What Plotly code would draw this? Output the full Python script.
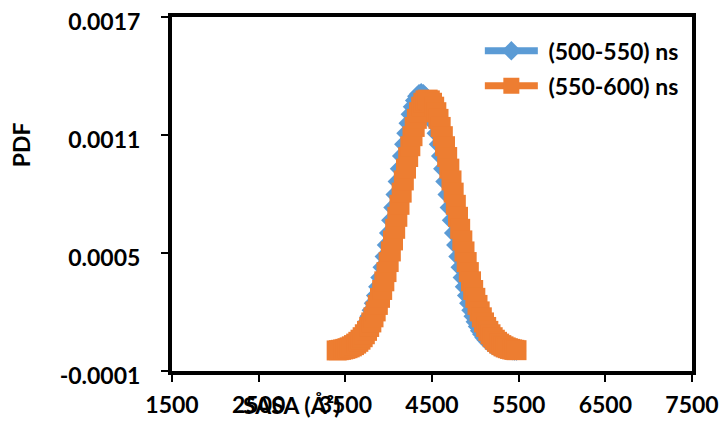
import plotly.graph_objects as go

# SASA values (Å^2) shared by both series
sasa = [3400, 3425, 3450, 3475, 3500, 3525, 3550, 3575, 3600, 3625, 3650, 3675,
        3700, 3725, 3750, 3775, 3800, 3825, 3850, 3875, 3900, 3925, 3950, 3975,
        4000, 4025, 4050, 4075, 4100, 4125, 4150, 4175, 4200, 4225, 4250, 4275,
        4300, 4325, 4350, 4375, 4400, 4425, 4450, 4475, 4500, 4525, 4550, 4575,
        4600, 4625, 4650, 4675, 4700, 4725, 4750, 4775, 4800, 4825, 4850, 4875,
        4900, 4925, 4950, 4975, 5000, 5025, 5050, 5075, 5100, 5125, 5150, 5175,
        5200, 5225, 5250, 5275, 5300, 5325, 5350, 5375, 5400, 5425, 5450, 5475]

pdf_500_550 = [0.067e-4, 0.087e-4, 0.113e-4, 0.146e-4, 0.187e-4, 0.237e-4, 0.300e-4,
               0.376e-4, 0.467e-4, 0.578e-4, 0.709e-4, 0.864e-4, 1.05e-4, 1.26e-4,
               1.50e-4, 1.78e-4, 2.09e-4, 2.45e-4, 2.84e-4, 3.28e-4, 3.75e-4, 4.27e-4,
               4.82e-4, 5.41e-4, 6.02e-4, 6.66e-4, 7.31e-4, 7.98e-4, 8.64e-4, 9.29e-4,
               9.93e-4, 10.53e-4, 11.09e-4, 11.60e-4, 12.06e-4, 12.44e-4, 12.75e-4,
               12.97e-4, 13.10e-4, 13.15e-4, 13.10e-4, 12.97e-4, 12.75e-4, 12.44e-4,
               12.06e-4, 11.60e-4, 11.09e-4, 10.53e-4, 9.93e-4, 9.29e-4, 8.64e-4,
               7.98e-4, 7.31e-4, 6.66e-4, 6.02e-4, 5.41e-4, 4.82e-4, 4.27e-4, 3.75e-4,
               3.28e-4, 2.84e-4, 2.45e-4, 2.09e-4, 1.78e-4, 1.50e-4, 1.26e-4, 1.05e-4,
               0.864e-4, 0.709e-4, 0.578e-4, 0.467e-4, 0.376e-4, 0.300e-4, 0.237e-4,
               0.187e-4, 0.146e-4, 0.113e-4, 0.087e-4, 0.067e-4, 0.051e-4, 0.038e-4,
               0.029e-4, 0.021e-4, 0.016e-4]

pdf_550_600 = [0.045e-4, 0.059e-4, 0.077e-4, 0.098e-4, 0.126e-4, 0.160e-4, 0.202e-4,
               0.254e-4, 0.317e-4, 0.393e-4, 0.483e-4, 0.591e-4, 0.718e-4, 0.868e-4,
               1.04e-4, 1.24e-4, 1.47e-4, 1.73e-4, 2.03e-4, 2.36e-4, 2.72e-4, 3.12e-4,
               3.56e-4, 4.03e-4, 4.54e-4, 5.08e-4, 5.64e-4, 6.23e-4, 6.84e-4, 7.45e-4,
               8.07e-4, 8.69e-4, 9.29e-4, 9.88e-4, 10.43e-4, 10.94e-4, 11.41e-4,
               11.82e-4, 12.16e-4, 12.44e-4, 12.64e-4, 12.76e-4, 12.80e-4, 12.76e-4,
               12.64e-4, 12.44e-4, 12.16e-4, 11.82e-4, 11.41e-4, 10.94e-4, 10.43e-4,
               9.88e-4, 9.29e-4, 8.69e-4, 8.07e-4, 7.45e-4, 6.84e-4, 6.23e-4, 5.64e-4,
               5.08e-4, 4.54e-4, 4.03e-4, 3.56e-4, 3.12e-4, 2.72e-4, 2.36e-4, 2.03e-4,
               1.73e-4, 1.47e-4, 1.24e-4, 1.04e-4, 0.868e-4, 0.718e-4, 0.591e-4,
               0.483e-4, 0.393e-4, 0.317e-4, 0.254e-4, 0.202e-4, 0.160e-4, 0.126e-4,
               0.098e-4, 0.077e-4, 0.059e-4]

series_names = ["(500-550) ns", "(550-600) ns"]
x_ticks = [1500, 2500, 3500, 4500, 5500, 6500, 7500]
y_ticks = [-0.0001, 0.0005, 0.0011, 0.0017]
y_tick_text = ["-0.0001", "0.0005", "0.0011", "0.0017"]

assert len(sasa) == len(pdf_500_550) == len(pdf_550_600)

FONT = "Lato"
BLUE = "#5B9BD5"
ORANGE = "#ED7D31"

fig = go.Figure()
fig.add_trace(go.Scatter(
    x=sasa, y=pdf_500_550, name=" " + series_names[0], mode="lines+markers",
    line=dict(color=BLUE, width=7),
    marker=dict(symbol="diamond", size=15, color=BLUE),
    legendgroup="a",
))
fig.add_trace(go.Scatter(
    x=sasa, y=pdf_550_600, name=" " + series_names[1], mode="lines+markers",
    line=dict(color=ORANGE, width=7),
    marker=dict(symbol="square", size=20, color=ORANGE),
    legendgroup="b",
))

fig.update_layout(
    width=724, height=428,
    margin=dict(l=172, r=32, t=17, b=57, autoexpand=False),
    paper_bgcolor="white", plot_bgcolor="white",
    font=dict(family=FONT, size=23, color="black", weight="bold"),
    showlegend=True,
    legend=dict(x=0.592, y=0.965, xanchor="left", yanchor="top",
                bgcolor="rgba(0,0,0,0)", itemwidth=53,
                traceorder="grouped", tracegroupgap=2,
                font=dict(family=FONT, size=23, color="black", weight="bold")),
)

fig.update_xaxes(
    range=[1500, 7500], tickvals=x_ticks, ticktext=[str(v) for v in x_ticks],
    showgrid=False, zeroline=False, automargin=False,
    showline=True, linecolor="black", linewidth=4, mirror=True,
    ticks="outside", ticklen=7, tickwidth=2, tickcolor="black",
    ticklabelstandoff=3,
    tickfont=dict(family=FONT, size=23, color="black", weight="bold"),
)
fig.update_yaxes(
    range=[-0.0001000001, 0.0017000001], tickvals=y_ticks, ticktext=y_tick_text,
    showgrid=False, zeroline=False, automargin=False,
    showline=True, linecolor="black", linewidth=4, mirror=True,
    ticks="outside", ticklen=7, tickwidth=2, tickcolor="black",
    ticklabelstandoff=16, ticklabelshift=5,
    tickfont=dict(family=FONT, size=23, color="black", weight="bold"),
)

fig.add_annotation(
    text="SASA (Å²)", xref="paper", yref="paper", x=0.23, y=-0.095,
    xanchor="center", yanchor="middle", showarrow=False,
    font=dict(family=FONT, size=23, color="black", weight="bold"),
)
fig.add_annotation(
    text="PDF", xref="paper", yref="paper", x=-0.29, y=0.638,
    xanchor="center", yanchor="middle", showarrow=False, textangle=-90,
    font=dict(family=FONT, size=23, color="black", weight="bold"),
)

fig.write_html("out.html")
